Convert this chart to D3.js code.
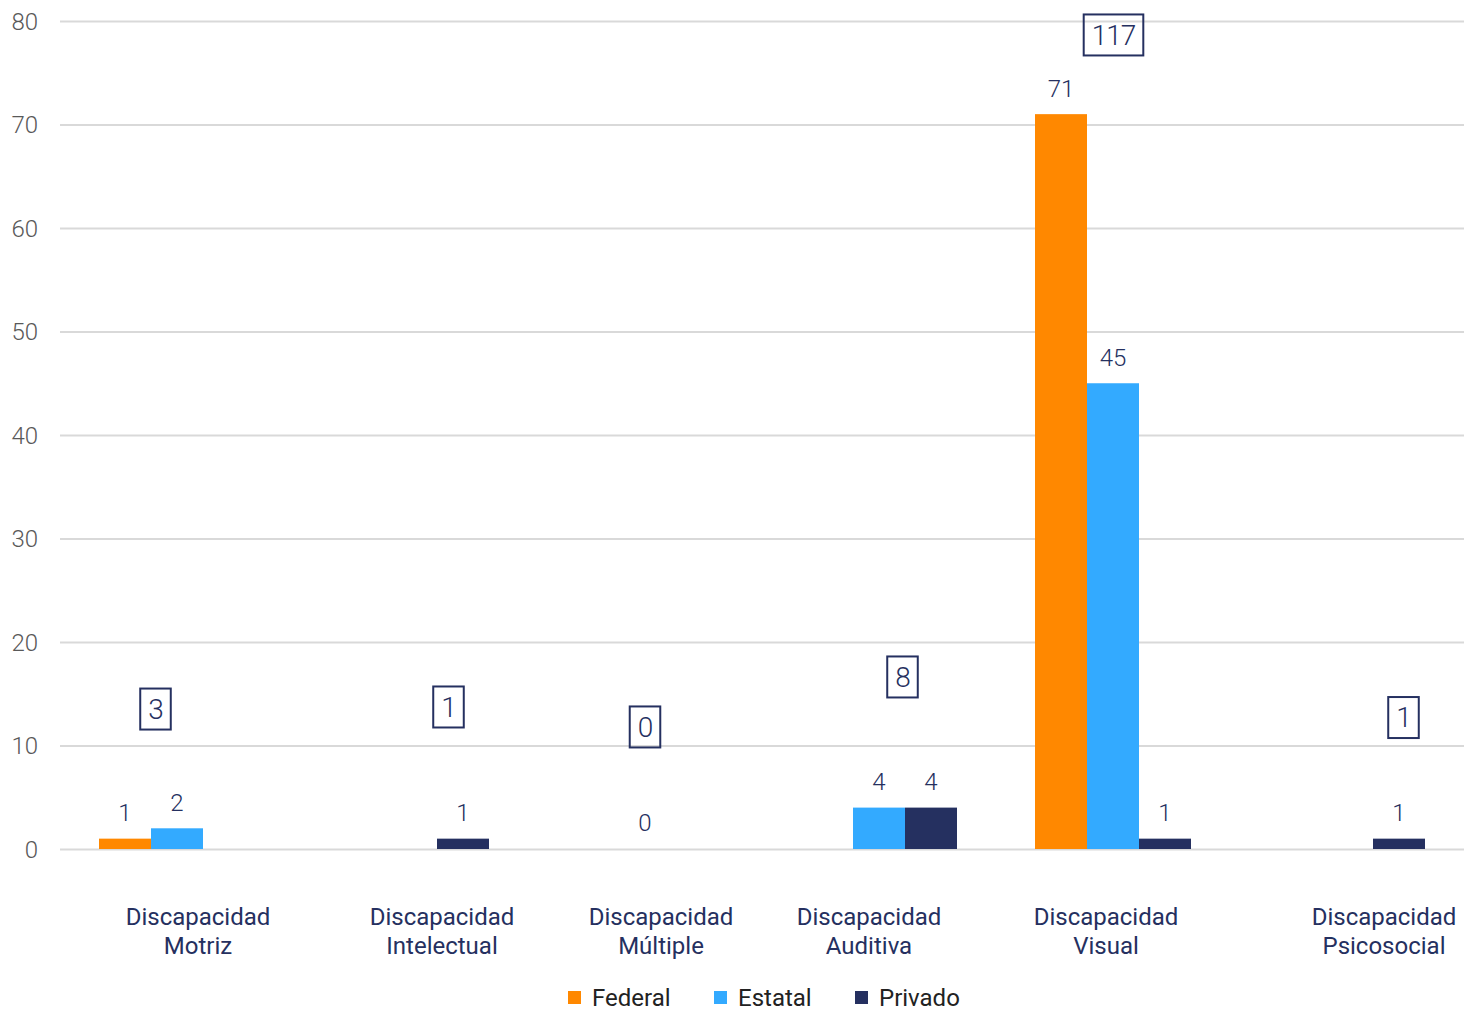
<!DOCTYPE html>
<html><head><meta charset="utf-8">
<script src="https://cdn.jsdelivr.net/npm/d3@7"></script>
<style>body{margin:0;background:#fff}svg{display:block}text{font-family:Roboto,"Noto Sans",sans-serif}</style>
</head><body><svg id="c" width="1471" height="1013"></svg>
<script>
const categories = [["Discapacidad","Motriz"],["Discapacidad","Intelectual"],["Discapacidad","Múltiple"],["Discapacidad","Auditiva"],["Discapacidad","Visual"],["Discapacidad","Psicosocial"]];
const seriesNames = ["Federal","Estatal","Privado"];
const federal = [1,0,0,0,71,0];
const estatal = [2,0,0,4,45,0];
const privado = [0,1,0,4,1,1];
const totals = [3,1,0,8,117,1];
const yTicks = [0,10,20,30,40,50,60,70,80];
// which value labels are shown (per category, per series)
const shownLabels = [[1,1,0],[0,0,1],[0,1,0],[0,1,1],[1,1,1],[0,0,1]];

// layout
const colors = ["#FF8800","#33AAFF","#253060"];
const labelDx = [21,31,16,-10,-7,37];
const boxPos = [[-21.5,13.57],[37.5,13.77],[0,11.84],[23.5,16.67],[0.5,78.7],[56.5,12.75]];

const svg = d3.select("#c");
const keys = categories.map(c=>c.join(" "));
const x = d3.scaleBand().domain(keys).range([60,1464]).paddingInner(1/3).paddingOuter(1/6);
const xs = d3.scaleBand().domain(seriesNames).range([0,x.bandwidth()]);
const y = d3.scaleLinear().domain([0,80]).range([849,21]);
const series = [federal,estatal,privado];

// grid
const yAxis = d3.axisLeft(y).tickValues(yTicks).tickSize(-1404).tickPadding(22);
const ga = svg.append("g").attr("transform","translate(60,0)").call(yAxis);
ga.select(".domain").remove();
ga.selectAll(".tick line").attr("stroke","#d9d9d9").attr("stroke-width",2);
ga.selectAll(".tick text").attr("fill","#595959").attr("font-size",24).attr("font-weight",300).attr("dy","0.35em");

// bars
keys.forEach((k,i)=>{
  seriesNames.forEach((s,j)=>{
    const v = series[j][i];
    if(v>0){
      svg.append("rect").attr("x",x(k)+xs(s)).attr("y",y(v)).attr("width",xs.bandwidth()).attr("height",y(0)-y(v)).attr("fill",colors[j]);
    }
    if(shownLabels[i][j]){
      svg.append("text").attr("x",x(k)+xs(s)+xs.bandwidth()/2).attr("y",y(v)-26).attr("dy","0.35em")
        .attr("text-anchor","middle").attr("font-size",24).attr("font-weight",300).attr("fill","#253060").text(v);
    }
  });
  // category label
  const cx = x(k)+x.bandwidth()/2+labelDx[i];
  const t = svg.append("text").attr("text-anchor","middle").attr("font-size",24).attr("font-weight",400).attr("fill","#253060");
  t.append("tspan").attr("x",cx).attr("y",925).text(categories[i][0]);
  t.append("tspan").attr("x",cx).attr("y",954).text(categories[i][1]);
  // total box
  const bx = x(k)+x.bandwidth()/2+boxPos[i][0], by = y(boxPos[i][1]);
  const tt = svg.append("text").attr("x",bx).attr("y",by).attr("dy","0.36em").attr("text-anchor","middle")
    .attr("font-size",28).attr("font-weight",300).attr("fill","#253060").attr("letter-spacing",-1).text(totals[i]);
  const w = tt.node().getComputedTextLength();
  svg.append("rect").attr("x",bx-w/2-8).attr("y",by-20).attr("width",w+16).attr("height",41)
    .attr("fill","none").attr("stroke","#253060").attr("stroke-width",2);
});

// legend
const lx = [568,714,855];
seriesNames.forEach((s,j)=>{
  svg.append("rect").attr("x",lx[j]).attr("y",991).attr("width",13).attr("height",13).attr("fill",colors[j]);
  svg.append("text").attr("x",lx[j]+24).attr("y",998).attr("dy","0.35em").attr("font-size",24).attr("fill","#222").text(s);
});
</script></body></html>
